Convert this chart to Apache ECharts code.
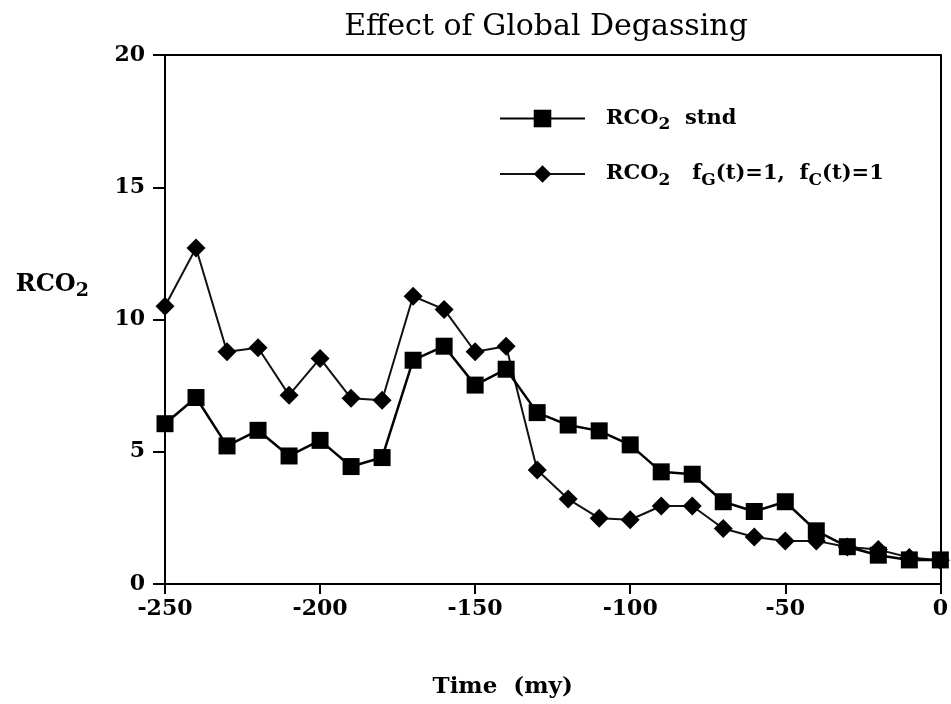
<!DOCTYPE html>
<html>
<head>
<meta charset="utf-8">
<script src="https://cdn.jsdelivr.net/npm/echarts@6/dist/echarts.min.js"></script>
<style>html,body{margin:0;padding:0;background:#fff}#c{width:951px;height:704px}</style>
</head>
<body>
<div id="c"></div>
<script>
var times = [-250,-240,-230,-220,-210,-200,-190,-180,-170,-160,-150,-140,-130,-120,-110,-100,-90,-80,-70,-60,-50,-40,-30,-20,-10,0];
var stnd = [6.06,7.05,5.22,5.81,4.84,5.43,4.44,4.78,8.46,8.99,7.52,8.12,6.48,6.01,5.79,5.26,4.24,4.15,3.11,2.74,3.11,2.01,1.41,1.09,0.91,0.91];
var fixedG = [10.5,12.7,8.78,8.93,7.14,8.53,7.02,6.95,10.88,10.38,8.78,8.99,4.31,3.21,2.49,2.43,2.95,2.95,2.10,1.78,1.63,1.63,1.40,1.30,1.00,0.90];
var xTicks = [-250,-200,-150,-100,-50,0];
var yTicks = [0,5,10,15,20];
var seriesNames = ['RCO2 stnd','RCO2 fG(t)=1, fC(t)=1'];

function pairs(xs, ys){ return xs.map(function(x,i){ return [x, ys[i]]; }); }

var serif = 'DejaVu Serif';
var rich = {
  b: {fontFamily: serif, fontWeight: 'bold', fontSize: 21, color: '#000', lineHeight: 30},
  sub: {fontFamily: serif, fontWeight: 'bold', fontSize: 17, color: '#000', lineHeight: 30, verticalAlign: 'bottom'}
};
var richName = {
  b: {fontFamily: serif, fontWeight: 'bold', fontSize: 24, color: '#000', lineHeight: 32},
  sub: {fontFamily: serif, fontWeight: 'bold', fontSize: 19, color: '#000', lineHeight: 32, verticalAlign: 'bottom'}
};
var blank = {show: false};

var chart = echarts.init(document.getElementById('c'));
chart.setOption({
  animation: false,
  backgroundColor: '#fff',
  title: {
    text: 'Effect of Global Degassing',
    left: 541, top: 7, textAlign: 'center',
    textStyle: {fontFamily: serif, fontWeight: 'normal', fontSize: 30, color: '#000'}
  },
  grid: {left: 165, right: 6, top: 55, bottom: 119},
  legend: {
    orient: 'vertical', left: 494, top: 103, itemGap: 30,
    itemWidth: 85, itemHeight: 22,
    data: seriesNames,
    formatter: function(n){
      if (n === seriesNames[0]) return '{b|RCO}{sub|2}{b|  stnd}';
      return '{b|RCO}{sub|2}{b|   f}{sub|G}{b|(t)=1,  f}{sub|C}{b|(t)=1}';
    },
    textStyle: {rich: rich, padding: [0,0,0,16]}
  },
  xAxis: [{
    type: 'value', min: -250, max: 0, interval: 50, position: 'bottom',
    name: 'Time  (my)', nameLocation: 'middle', nameGap: 92,
    nameTextStyle: {fontFamily: serif, fontWeight: 'bold', fontSize: 23, color: '#000', padding: [0,100,0,0]},
    axisLine: {show: true, onZero: false, lineStyle: {color: '#000', width: 2}},
    axisTick: {show: true, inside: false, length: 10, lineStyle: {color: '#000', width: 2}},
    axisLabel: {margin: 14, fontFamily: serif, fontWeight: 'bold', fontSize: 22, color: '#000',
      formatter: function(v){ return xTicks.indexOf(v) >= 0 ? String(v) : ''; }},
    splitLine: {show: false}
  }, {
    type: 'value', min: -250, max: 0, position: 'top',
    axisLine: {show: true, onZero: false, lineStyle: {color: '#000', width: 2}},
    axisTick: blank, axisLabel: blank, splitLine: blank
  }],
  yAxis: [{
    type: 'value', min: 0, max: 20, interval: 5, position: 'left',
    name: '{b|RCO}{sub|2}', nameLocation: 'middle', nameRotate: 0, nameGap: 76,
    nameTextStyle: {rich: richName, padding: [0,0,70,0]},
    axisLine: {show: true, onZero: false, lineStyle: {color: '#000', width: 2}},
    axisTick: {show: true, inside: false, length: 12, lineStyle: {color: '#000', width: 2}},
    axisLabel: {margin: 20, fontFamily: serif, fontWeight: 'bold', fontSize: 22, color: '#000',
      formatter: function(v){ return yTicks.indexOf(v) >= 0 ? String(v) : ''; }},
    splitLine: {show: false}
  }, {
    type: 'value', min: 0, max: 20, position: 'right',
    axisLine: {show: true, onZero: false, lineStyle: {color: '#000', width: 2}},
    axisTick: blank, axisLabel: blank, splitLine: blank
  }],
  series: [
    {
      name: seriesNames[1], type: 'line', data: pairs(times, fixedG),
      xAxisIndex: 0, yAxisIndex: 0,
      symbol: 'diamond', symbolSize: 19,
      itemStyle: {color: '#000'},
      lineStyle: {color: '#111', width: 2}
    },
    {
      name: seriesNames[0], type: 'line', data: pairs(times, stnd),
      xAxisIndex: 0, yAxisIndex: 0,
      symbol: 'rect', symbolSize: 17,
      itemStyle: {color: '#000'},
      lineStyle: {color: '#000', width: 2.5}
    }
  ]
});
</script>
</body>
</html>
